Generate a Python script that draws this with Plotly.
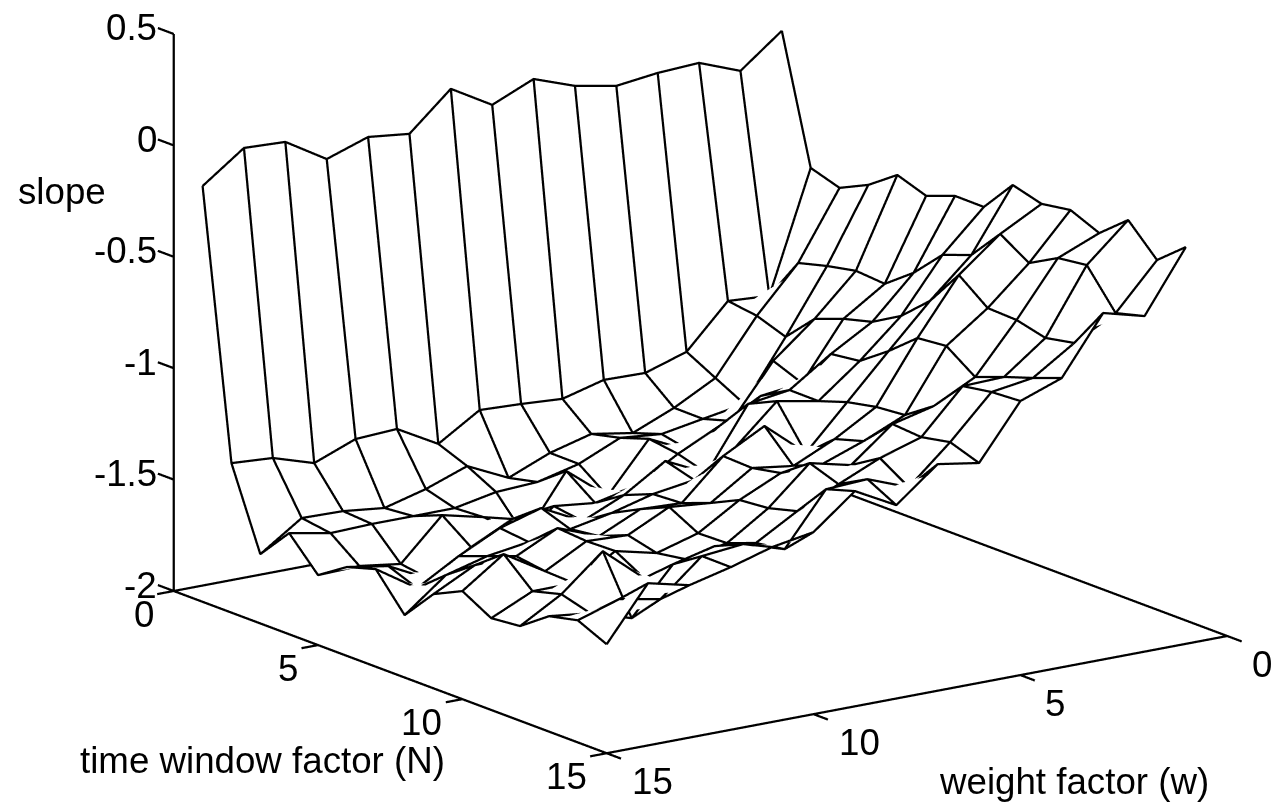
import numpy as np
import plotly.graph_objects as go

w_values = list(range(1, 16))
N_values = list(range(1, 16))
slope_N1 = [0.072,-0.073,-0.002,-0.012,-0.035,0.0,0.066,-0.015,0.092,-0.075,-0.054,-0.118,-0.006,0.002,-0.134]
slope_N2 = [-0.495,-1.034,-1.022,-1.215,-1.275,-1.271,-1.321,-1.309,-1.301,-1.418,-1.316,-1.326,-1.399,-1.341,-1.329]
slope_N3 = [-0.536,-0.838,-1.04,-1.284,-1.383,-1.461,-1.43,-1.48,-1.557,-1.469,-1.537,-1.587,-1.566,-1.562,-1.689]
slope_N4 = [-0.474,-0.803,-1.086,-1.352,-1.384,-1.417,-1.399,-1.481,-1.527,-1.537,-1.574,-1.575,-1.575,-1.581,-1.546]
slope_N5 = [-0.381,-0.776,-0.957,-1.11,-1.345,-1.444,-1.355,-1.576,-1.429,-1.686,-1.566,-1.522,-1.706,-1.68,-1.686]
slope_N6 = [-0.426,-0.786,-0.908,-1.161,-1.184,-1.284,-1.374,-1.483,-1.524,-1.503,-1.526,-1.617,-1.725,-1.632,-1.601]
slope_N7 = [-0.378,-0.688,-0.873,-0.982,-1.109,-1.136,-1.411,-1.322,-1.44,-1.522,-1.428,-1.483,-1.574,-1.682,-1.562]
slope_N8 = [-0.379,-0.559,-0.798,-0.965,-1.11,-1.075,-1.246,-1.359,-1.387,-1.437,-1.474,-1.497,-1.525,-1.575,-1.72]
slope_N9 = [-0.232,-0.511,-0.682,-0.872,-1.066,-1.259,-1.103,-1.203,-1.379,-1.371,-1.457,-1.386,-1.477,-1.482,-1.577]
slope_N10 = [-0.268,-0.368,-0.517,-0.765,-1.039,-1.148,-1.234,-1.208,-1.33,-1.313,-1.404,-1.396,-1.496,-1.384,-1.515]
slope_N11 = [-0.247,-0.45,-0.617,-0.752,-1.027,-1.109,-1.177,-1.182,-1.268,-1.382,-1.436,-1.392,-1.501,-1.502,-1.588]
slope_N12 = [-0.302,-0.379,-0.622,-0.843,-0.938,-0.984,-1.133,-1.089,-1.256,-1.378,-1.415,-1.465,-1.309,-1.467,-1.575]
slope_N13 = [-0.195,-0.362,-0.654,-0.794,-0.8,-0.994,-1.053,-1.135,-1.221,-1.329,-1.308,-1.354,-1.561,-1.504,-1.482]
slope_N14 = [-0.326,-0.529,-0.628,-0.75,-0.778,-0.968,-1.135,-1.064,-1.074,-1.308,-1.25,-1.269,-1.427,-1.392,-1.452]
slope_N15 = [-0.219,-0.494,-0.445,-0.702,-0.77,-1.013,-0.983,-1.132,-1.034,-1.183,-1.215,-1.27,-1.316,-1.272,-1.511]
Z = np.array([slope_N1, slope_N2, slope_N3, slope_N4, slope_N5, slope_N6, slope_N7, slope_N8,
              slope_N9, slope_N10, slope_N11, slope_N12, slope_N13, slope_N14, slope_N15])
w_ticks = [0, 5, 10, 15]
N_ticks = [0, 5, 10, 15]
z_ticks = [-2, -1.5, -1, -0.5, 0, 0.5]
z_labels = ["-2", "-1.5", "-1", "-0.5", "0", "0.5"]

# ---- view set-up ----
xr, yr, zr = [-1, 16], [-1, 16], [-2.1, 0.6]
ax_w, ax_N, ax_zu = 1.898, 1.865, 1.441 / 2.5   # scene length of 15 w units, 15 N units, one z unit
asp = dict(x=ax_w * (xr[1] - xr[0]) / 15, y=ax_N * (yr[1] - yr[0]) / 15, z=ax_zu * (zr[1] - zr[0]))
v = np.array([.558, .786, .266]); v = v / np.linalg.norm(v)
r = np.cross(-v, [0, 0, 1]); r = r / np.linalg.norm(r)
u = np.cross(r, -v)
d = 4.0
S = 401.0
def world(wv, nv, zv):
    return np.array([((wv - xr[0]) / (xr[1] - xr[0]) - .5) * asp["x"],
                     ((nv - yr[0]) / (yr[1] - yr[0]) - .5) * asp["y"],
                     ((zv - zr[0]) / (zr[1] - zr[0]) - .5) * asp["z"]])
T = world(7.5, 7.5, -0.75)
dx, dy_up = 65, 66
C = T - dx / S * r - dy_up / S * u
E = C + v * d

# the white sheet sits a little behind the wire mesh so the wires are not buried in its folds
eps = 0.07
W0 = np.array(w_values, float) - eps * v[0] * (xr[1] - xr[0]) / asp["x"]
N0 = np.array(N_values, float) - eps * v[1] * (yr[1] - yr[0]) / asp["y"]
Z0 = Z - eps * v[2] * (zr[1] - zr[0]) / asp["z"]

line = dict(color="black", width=4.5)
def seg(xs, ys, zs):
    return go.Scatter3d(x=xs, y=ys, z=zs, mode="lines", line=line, hoverinfo="skip", showlegend=False)

fig = go.Figure(go.Surface(x=W0, y=N0, z=Z0, showscale=False, colorscale=[[0, "white"], [1, "white"]],
    lighting=dict(ambient=1, diffuse=0, specular=0, fresnel=0, roughness=1), hoverinfo="skip",
    contours=dict(x=dict(highlight=False), y=dict(highlight=False), z=dict(highlight=False))))
for i, nv in enumerate(N_values):
    fig.add_trace(seg(w_values, [nv] * 15, Z[i].tolist()))
for j, wv in enumerate(w_values):
    fig.add_trace(seg([wv] * 15, N_values, Z[:, j].tolist()))
# box
fig.add_trace(seg([15, 15, 0, 0, 15, 15], [0, 15, 15, 0, 0, 0], [-2, -2, -2, -2, -2, 0.5]))
for t in N_ticks:
    fig.add_trace(seg([15, 15.4], [t, t], [-2, -2]))
for t in w_ticks:
    fig.add_trace(seg([t, t], [15, 15.5], [-2, -2]))
for t in z_ticks:
    fig.add_trace(seg([15, 15], [0, -0.55], [t, t]))

font = dict(family="Liberation Sans", size=36.7, color="black")
anns = []
for t, s in zip(z_ticks, z_labels):
    anns.append(dict(x=15, y=0, z=t, text=s, showarrow=False, xanchor="right", xshift=-15, yshift=6, font=font))
for t in N_ticks:
    anns.append(dict(x=15, y=t, z=-2, text=str(t), showarrow=False, xanchor="right", xshift=-18, yshift=-23, font=font))
for t in w_ticks:
    anns.append(dict(x=t, y=15, z=-2, text=str(t), showarrow=False, xanchor="left", xshift=23, yshift=-28, font=font))

def paper(px, py, text):
    return dict(xref="paper", yref="paper", x=px / 1271, y=1 - py / 802, text=text, showarrow=False,
                xanchor="center", yanchor="middle", font=font)

hidden = dict(visible=False, showgrid=False, zeroline=False, showbackground=False, showspikes=False)
fig.update_layout(width=1271, height=802, margin=dict(l=0, r=0, t=0, b=0), paper_bgcolor="white", showlegend=False,
    annotations=[paper(62, 192, "slope"), paper(262, 760, "time window factor (N)"), paper(1074, 781, "weight factor (w)")],
    scene=dict(domain=dict(x=[0, 1], y=[0, 1]), annotations=anns,
        xaxis=dict(hidden, range=xr), yaxis=dict(hidden, range=yr), zaxis=dict(hidden, range=zr),
        aspectmode="manual", aspectratio=asp,
        camera=dict(eye=dict(x=E[0], y=E[1], z=E[2]), center=dict(x=C[0], y=C[1], z=C[2]), up=dict(x=0, y=0, z=1),
                    projection=dict(type="orthographic"))))
fig.write_html("out.html", config=dict(displayModeBar=False),
               post_script="document.body.style.margin='0';document.documentElement.style.overflow='hidden';")
